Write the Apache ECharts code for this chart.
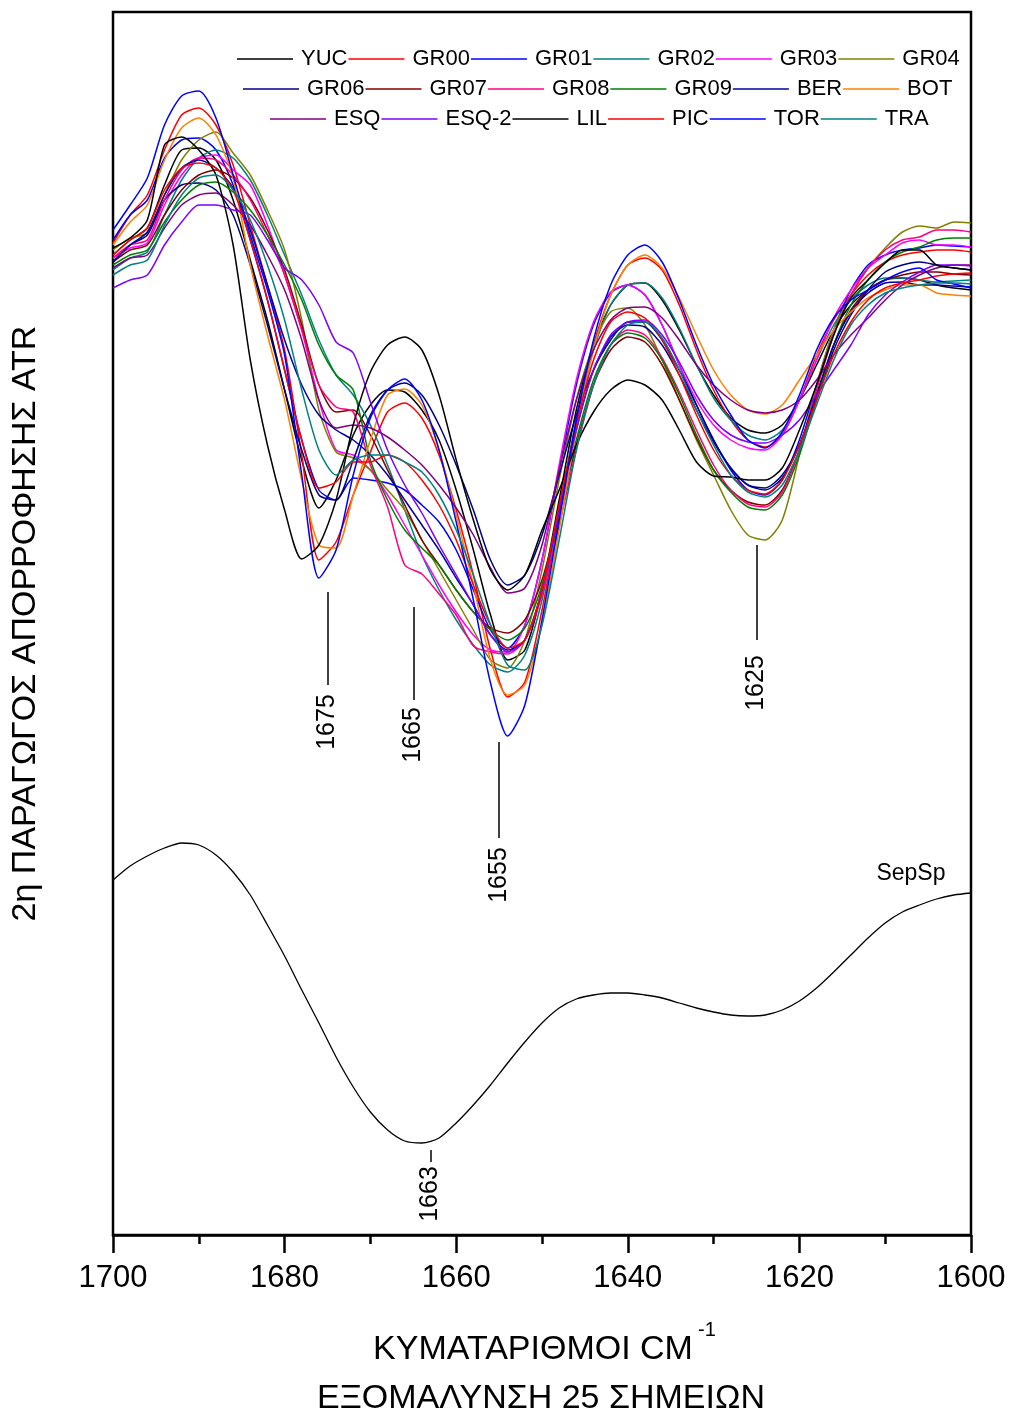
<!DOCTYPE html>
<html>
<head>
<meta charset="utf-8">
<script src="https://cdn.jsdelivr.net/npm/echarts@6/dist/echarts.min.js"></script>
<style>
  html, body { margin: 0; padding: 0; background: #ffffff; }
  #chart { width: 1013px; height: 1418px; }
</style>
</head>
<body>
<div id="chart"></div>
<script>
// Wavenumber grid (cm-1), 1700 -> 1600
const wavenumbers = [1700,1698,1696,1694,1692,1690,1688,1686,1684,1682,1680,1678,1676,1674,1672,1670,1668,1666,1664,1662,1660,1658,1656,1654,1652,1650,1648,1646,1644,1642,1640,1638,1636,1634,1632,1630,1628,1626,1624,1622,1620,1618,1616,1614,1612,1610,1608,1606,1604,1602,1600];

// Second-derivative ATR spectra (arbitrary offset units), one array per sample
const YUC   = [945,960,972,1015,1050,1052,1040,1000,940,880,810,740,692,720,765,795,810,808,790,760,710,650,585,540,550,610,700,790,855,895,915,917,900,870,835,805,782,770,767,775,800,835,870,895,910,920,922,920,915,912,910];
const GR00  = [957,985,1005,1050,1085,1092,1075,1035,975,915,850,745,640,658,705,748,788,797,782,745,690,625,550,503,518,590,685,780,855,905,935,942,930,895,850,810,780,760,753,765,800,845,880,905,925,938,945,948,950,950,948];
const GR01  = [960,985,1000,1042,1060,1062,1050,1015,960,900,830,760,710,700,722,720,717,710,695,678,650,610,570,552,575,640,730,815,875,907,915,905,875,835,795,760,730,710,705,720,760,815,870,910,935,945,950,952,955,954,953];
const GR02  = [930,942,948,985,1020,1042,1050,1042,1020,985,945,905,860,825,805,775,735,690,645,610,580,555,535,528,545,600,690,780,850,895,915,917,902,872,835,802,780,765,760,770,800,840,875,900,915,922,922,920,918,919,920];
const GR03  = [942,952,957,995,1025,1042,1045,1030,1015,975,925,870,800,750,745,730,705,675,645,615,588,565,550,548,575,640,735,820,878,908,915,905,875,835,800,775,760,752,750,765,800,840,882,910,932,945,957,960,955,955,953];
const GR04  = [950,962,967,1005,1040,1060,1068,1047,1025,990,950,880,790,748,742,730,710,690,660,630,600,570,540,532,560,630,720,800,855,888,892,875,840,800,760,725,690,665,660,680,745,815,870,905,932,952,968,974,972,978,977];
const GR06  = [938,955,965,1000,1015,1017,1010,985,935,875,810,750,705,700,740,785,810,817,805,775,735,690,640,615,625,665,725,785,830,860,878,878,860,830,795,760,732,715,712,725,755,800,850,885,910,928,935,938,935,932,930];
const GR07  = [938,950,955,985,1010,1025,1030,1022,1002,970,930,875,815,788,790,765,730,695,660,635,610,588,572,567,580,620,685,755,815,850,863,858,835,800,762,730,710,698,695,710,750,805,855,890,910,920,925,928,928,926,925];
const GR08  = [942,955,960,1000,1030,1042,1040,1025,1000,965,925,870,815,793,788,735,693,635,626,606,585,554,548,546,560,605,675,750,815,855,870,865,842,808,770,735,710,696,693,708,750,810,865,905,932,950,960,963,970,970,968];
const GR09  = [935,945,950,978,1000,1015,1018,1008,990,965,935,900,855,825,810,740,700,670,652,635,610,588,570,560,572,615,685,760,820,855,867,862,840,805,765,730,708,693,690,705,745,800,855,895,920,938,948,953,960,962,962];
const BER   = [938,955,968,1005,1032,1040,1032,1012,970,915,860,815,785,770,760,745,725,700,675,650,622,595,565,550,560,610,690,770,830,863,875,873,855,825,790,758,732,715,710,722,755,805,855,888,907,917,918,915,915,914,913];
const BOT   = [955,978,995,1040,1072,1082,1065,1022,935,865,800,720,655,652,705,760,805,811,795,750,685,615,540,505,515,575,670,770,850,905,935,945,932,902,865,830,805,790,786,795,820,845,870,888,902,910,915,915,907,905,904];
const ESQ   = [932,942,945,972,995,1005,1007,995,975,945,910,860,800,772,775,772,763,750,735,715,692,665,632,607,612,655,730,800,850,880,892,893,882,860,835,815,800,790,787,790,800,820,845,865,882,900,915,925,932,935,935];
const ESQ2  = [912,920,925,955,978,995,995,990,985,960,932,920,895,858,847,798,750,715,687,655,625,595,565,548,560,610,690,770,830,865,878,880,865,838,805,780,765,758,757,765,780,805,830,855,885,905,918,928,935,935,934];
const LIL   = [952,962,980,1055,1063,1050,1025,955,840,755,690,641,655,700,775,828,855,863,850,805,740,680,630,610,625,670,710,755,788,810,820,815,800,770,738,724,723,720,720,732,770,815,865,902,920,937,950,950,935,932,930];
const PIC   = [945,960,972,1010,1032,1037,1032,1010,960,900,830,760,712,718,738,738,745,738,720,695,660,615,575,552,560,610,695,775,840,878,888,882,860,825,785,750,725,710,706,720,755,800,845,878,900,912,917,920,924,926,927];
const TOR   = [970,995,1022,1075,1104,1109,1082,1025,965,910,845,725,622,650,725,782,810,821,800,750,678,600,517,464,495,580,680,780,860,915,945,955,938,900,855,815,785,760,752,768,805,850,882,900,910,920,928,932,920,916,912];
const TRA   = [925,935,940,975,1005,1022,1025,1010,980,935,880,810,750,725,740,745,745,738,728,705,670,625,575,535,530,575,660,750,815,855,875,878,862,830,790,755,725,708,703,715,750,795,840,875,895,907,912,915,917,917,916];

// Reference spectrum (SepSp), same grid, lower trace
const SepSp = [320,334,344,352,357,355,345,328,305,275,244,210,177,143,113,88,70,59,57,62,77,95,115,137,158,177,192,201,205,207,207,205,202,197,192,188,185,184,185,190,199,212,228,245,262,277,288,295,301,305,307];

const sampleNames  = ['YUC','GR00','GR01','GR02','GR03','GR04','GR06','GR07','GR08','GR09','BER','BOT','ESQ','ESQ-2','LIL','PIC','TOR','TRA'];
const sampleValues = [YUC,GR00,GR01,GR02,GR03,GR04,GR06,GR07,GR08,GR09,BER,BOT,ESQ,ESQ2,LIL,PIC,TOR,TRA];
const sampleColors = ['#000000','#ff0000','#0000ff','#008080','#ff00ff','#808000','#000080','#800000','#ff0080','#008000','#0000a0','#ff8000','#800080','#8000ff','#000000','#ff0000','#0000ff','#008080'];

// Band assignments: wavenumber, leader line span and label anchor (value units)
const bandMarks = [
  { wn: 1675, lineFrom: 608, lineTo: 515, labelAt: 478 },
  { wn: 1665, lineFrom: 593, lineTo: 500, labelAt: 465 },
  { wn: 1655, lineFrom: 458, lineTo: 362, labelAt: 325 },
  { wn: 1625, lineFrom: 655, lineTo: 560, labelAt: 517 },
  { wn: 1663, lineFrom: 50,  lineTo: 38,  labelAt: 6 }
];
const sepLabel = { text: 'SepSp', wn: 1607, value: 326 };

const FONT = '"Liberation Sans", Arial, sans-serif';

const pair = vals => wavenumbers.map((w, i) => [w, vals[i]]);

const series = sampleNames.map((name, k) => ({
  name: name,
  type: 'line',
  data: pair(sampleValues[k]),
  symbol: 'none',
  smooth: 0.25,
  color: sampleColors[k],
  lineStyle: { width: 1.5, color: sampleColors[k] },
  silent: true,
  animation: false
}));

series.push({
  name: 'SepSp',
  type: 'line',
  data: pair(SepSp),
  symbol: 'none',
  smooth: 0.25,
  lineStyle: { width: 1.3, color: '#000000' },
  silent: true,
  animation: false
});

series.push({
  type: 'lines',
  coordinateSystem: 'cartesian2d',
  polyline: false,
  silent: true,
  animation: false,
  lineStyle: { color: '#000000', width: 1.5, opacity: 1 },
  data: bandMarks.map(b => ({ coords: [[b.wn, b.lineFrom], [b.wn, b.lineTo]] }))
});

series.push({
  type: 'scatter',
  symbolSize: 0,
  silent: true,
  animation: false,
  itemStyle: { opacity: 1 },
  data: bandMarks.map(b => ({
    value: [b.wn, b.labelAt],
    label: {
      show: true, position: 'inside', rotate: 90,
      formatter: String(b.wn),
      fontFamily: FONT, fontSize: 25, color: '#000000', opacity: 1, textBorderWidth: 0
    }
  })).concat([{
    value: [sepLabel.wn, sepLabel.value],
    label: {
      show: true, position: 'inside',
      formatter: sepLabel.text,
      fontFamily: FONT, fontSize: 23, color: '#000000', opacity: 1, textBorderWidth: 0
    }
  }])
});

const legendRow = (names, left, top) => ({
  data: names,
  left: left,
  top: top,
  padding: 0,
  orient: 'horizontal',
  icon: 'rect',
  itemWidth: 56,
  itemHeight: 1.5,
  itemGap: 1,
  selectedMode: false,
  textStyle: { fontFamily: FONT, fontSize: 22, color: '#000000', padding: [0, 0, 0, 3] }
});

const option = {
  backgroundColor: '#ffffff',
  animation: false,
  grid: {
    left: 113, right: 42, top: 12, bottom: 183,
    outerBoundsMode: 'none',
    containLabel: false,
    show: true, borderColor: '#000000', borderWidth: 2.5, backgroundColor: 'transparent'
  },
  legend: [
    legendRow(sampleNames.slice(0, 6), 237, 48),
    legendRow(sampleNames.slice(6, 12), 243, 78),
    legendRow(sampleNames.slice(12, 18), 270, 108)
  ],
  xAxis: {
    type: 'value',
    min: 1600, max: 1700, interval: 20,
    inverse: true,
    axisLine: { show: true, onZero: false, lineStyle: { color: '#000000', width: 2.5 } },
    axisTick: { show: true, inside: false, length: 18, lineStyle: { color: '#000000', width: 2.5 } },
    minorTick: { show: true, splitNumber: 2, length: 9, lineStyle: { color: '#000000', width: 2.5 } },
    axisLabel: { show: true, margin: 28, fontFamily: FONT, fontSize: 31, color: '#000000',
                 formatter: v => String(v) },
    splitLine: { show: false }
  },
  yAxis: {
    type: 'value',
    min: -35, max: 1188,
    axisLine: { show: false },
    axisTick: { show: false },
    axisLabel: { show: false },
    splitLine: { show: false },
    name: '2η ΠΑΡΑΓΩΓΟΣ ΑΠΟΡΡΟΦΗΣΗΣ ATR',
    nameLocation: 'middle',
    nameRotate: 90,
    nameGap: 70,
    nameTextStyle: { fontFamily: FONT, fontSize: 34, color: '#000000' }
  },
  graphic: [
    { type: 'text', x: 533, y: 1350, silent: true,
      style: { text: 'ΚΥΜΑΤΑΡΙΘΜΟΙ CM', font: '34px ' + FONT, fill: '#000000', textAlign: 'center', textVerticalAlign: 'middle' } },
    { type: 'text', x: 698, y: 1330, silent: true,
      style: { text: '-1', font: '20px ' + FONT, fill: '#000000', textAlign: 'left', textVerticalAlign: 'middle' } },
    { type: 'text', x: 541, y: 1399, silent: true,
      style: { text: 'ΕΞΟΜΑΛΥΝΣΗ 25 ΣΗΜΕΙΩΝ', font: '34px ' + FONT, fill: '#000000', textAlign: 'center', textVerticalAlign: 'middle' } }
  ],
  series: series
};

const chart = echarts.init(document.getElementById('chart'), null, { renderer: 'canvas' });
chart.setOption(option);
</script>
</body>
</html>
